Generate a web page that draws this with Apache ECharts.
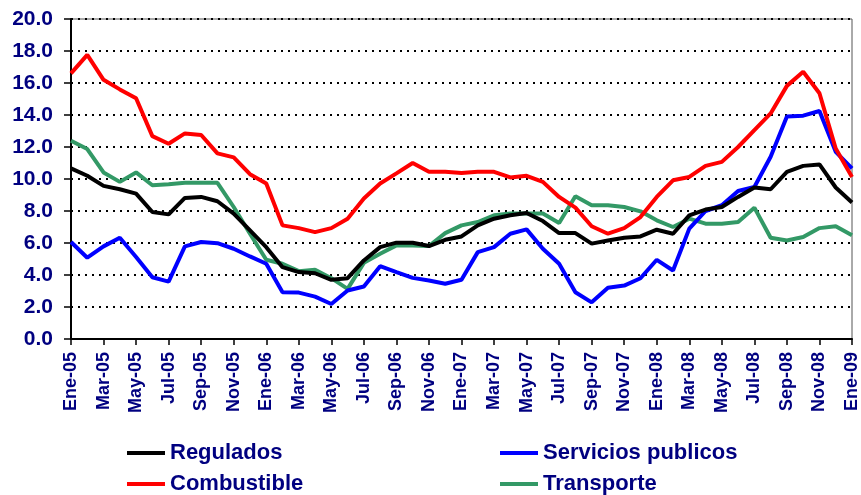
<!DOCTYPE html>
<html>
<head>
<meta charset="utf-8">
<script src="https://cdn.jsdelivr.net/npm/echarts@6/dist/echarts.min.js"></script>
<style>
  html, body { margin: 0; padding: 0; background: #fff; }
  #chart { width: 861px; height: 495px; }
</style>
</head>
<body>
<div id="chart"></div>
<script>
// meses en castellano, serie mensual Ene-05 .. Ene-09
var meses = ['Ene','Feb','Mar','Abr','May','Jun','Jul','Ago','Sep','Oct','Nov','Dic']
var anios = ['05','06','07','08','09']
var categorias = []
anios.forEach(function (a) {
    meses.forEach(function (m) {
        if (categorias.length < 49) categorias.push(m + '-' + a)
    })
})

var regulados = [10.66,10.2,9.57,9.36,9.09,7.94,7.79,8.82,8.88,8.61,7.84,6.79,5.74,4.49,4.18,4.11,3.7,
    3.8,4.91,5.74,6.02,6.02,5.81,6.2,6.41,7.1,7.52,7.73,7.88,7.37,6.62,6.62,5.96,
    6.16,6.33,6.41,6.83,6.58,7.73,8.09,8.25,8.88,9.47,9.36,10.45,10.82,10.91,9.47,8.53]
var servicios = [6.06,5.08,5.79,6.33,5.12,3.86,3.59,5.79,6.06,5.99,5.64,5.16,4.7,2.92,2.9,2.65,2.19,
    3.03,3.28,4.55,4.18,3.82,3.66,3.45,3.7,5.43,5.74,6.58,6.85,5.64,4.7,2.92,2.29,
    3.2,3.34,3.8,4.95,4.28,6.9,8.0,8.36,9.25,9.5,11.39,13.9,13.96,14.25,11.7,10.66]
var combustible = [16.6,17.76,16.2,15.6,15.05,12.68,12.2,12.85,12.75,11.6,11.35,10.3,9.72,7.1,6.93,6.68,6.93,
    7.52,8.78,9.72,10.35,11.0,10.45,10.45,10.38,10.45,10.45,10.1,10.2,9.82,8.88,8.21,7.05,
    6.58,6.93,7.62,8.88,9.92,10.13,10.82,11.07,12.0,13.06,14.1,15.82,16.7,15.36,11.9,10.13]
var transporte = [12.39,11.87,10.41,9.82,10.41,9.61,9.67,9.76,9.76,9.76,8.25,6.58,4.95,4.7,4.24,4.33,3.8,
    3.13,4.76,5.33,5.85,5.85,5.81,6.62,7.1,7.31,7.73,7.84,7.84,7.84,7.25,8.92,8.36,
    8.36,8.25,7.98,7.42,7.0,7.52,7.21,7.21,7.31,8.21,6.33,6.16,6.37,6.93,7.04,6.48]

var azul = '#000080'
var fuente = '"Liberation Sans", Arial, sans-serif'

function linea(nombre, datos, color) {
    return {
        name: nombre,
        type: 'line',
        data: datos,
        symbol: 'none',
        lineStyle: { color: color, width: 4 },
        itemStyle: { color: color }
    }
}

function leyenda(nombre, left, top) {
    return {
        data: [nombre],
        left: left,
        top: top,
        selectedMode: false,
        icon: 'rect',
        itemWidth: 38,
        itemHeight: 4,
        textStyle: { color: azul, fontSize: 22, fontWeight: 'bold', fontFamily: fuente }
    }
}

var myChart = echarts.init(document.getElementById('chart'))
myChart.setOption({
    animation: false,
    backgroundColor: '#fff',
    grid: { left: 71, right: 9, top: 19, bottom: 156, show: true, borderColor: '#555', borderWidth: 1 },
    legend: [
        leyenda('Regulados', 122, 437),
        leyenda('Servicios publicos', 495, 437),
        leyenda('Combustible', 122, 468),
        leyenda('Transporte', 495, 468)
    ],
    xAxis: {
        type: 'category',
        data: categorias,
        boundaryGap: false,
        axisLine: { lineStyle: { color: '#000', width: 2 } },
        axisTick: { interval: 1, length: 6, lineStyle: { color: '#000', width: 1.5 } },
        axisLabel: {
            interval: 1, rotate: 90, margin: 13,
            color: azul, fontSize: 18, fontWeight: 'bold', fontFamily: fuente
        },
        splitLine: { show: false }
    },
    yAxis: {
        type: 'value',
        min: 0, max: 20, interval: 2,
        axisLine: { show: true, lineStyle: { color: '#000', width: 2 } },
        axisTick: { show: true, length: 7, lineStyle: { color: '#000', width: 1.5 } },
        axisLabel: {
            margin: 18, color: azul, fontSize: 21, fontWeight: 'bold', fontFamily: fuente,
            formatter: function (v) { return v.toFixed(1) }
        },
        splitLine: { lineStyle: { color: '#000', width: 2, type: [2, 5] } }
    },
    series: [
        linea('Transporte', transporte, '#339966'),
        linea('Servicios publicos', servicios, '#0000ff'),
        linea('Regulados', regulados, '#000000'),
        linea('Combustible', combustible, '#ff0000')
    ]
})
</script>
</body>
</html>
